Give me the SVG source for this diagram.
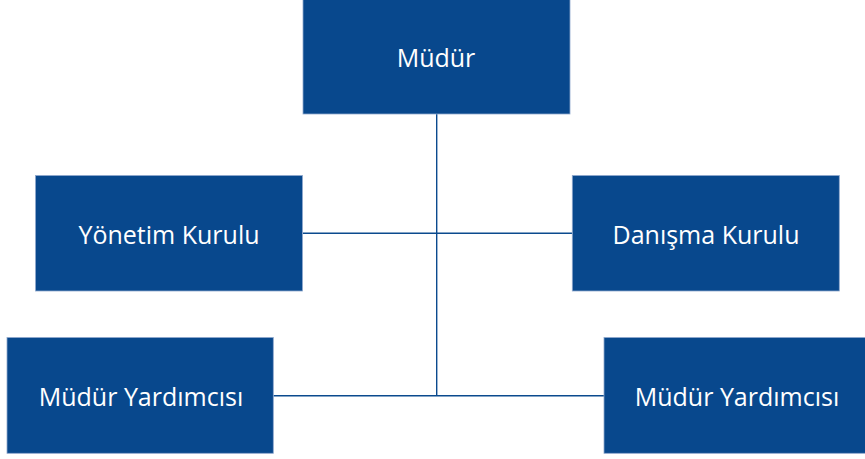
<svg xmlns="http://www.w3.org/2000/svg" width="865" height="459" viewBox="0 0 865 459">
<style>
.box{fill:#08488D;stroke:#8FA9CE;stroke-width:0.8}
.lbl{fill:#FFFFFF;font-family:"Open Sans","Liberation Sans",sans-serif;font-size:25px;text-anchor:middle}
.con{stroke:#0B4A8E;stroke-width:1.4;fill:none}
</style>
<rect width="865" height="459" fill="#FFFFFF"/>
<g id="connectors">
<line class="con" x1="436.7" y1="114" x2="436.7" y2="395.7"/>
<line class="con" x1="302.7" y1="233.3" x2="572.3" y2="233.3"/>
<line class="con" x1="273.3" y1="395.7" x2="604" y2="395.7"/>
</g>
<g id="mudur">
<rect class="box" x="303" y="-1" width="267" height="115"/>
<text class="lbl" x="436" y="66.5">Müdür</text>
</g>
<g id="yonetim">
<rect class="box" x="35.5" y="175.5" width="267" height="115.5"/>
<text class="lbl" x="169" y="243.5">Yönetim Kurulu</text>
</g>
<g id="danisma">
<rect class="box" x="572.3" y="175.5" width="267" height="115.5"/>
<text class="lbl" x="706" y="243.5">Danışma Kurulu</text>
</g>
<g id="yardimci1">
<rect class="box" x="7" y="337.5" width="266.3" height="115.8"/>
<text class="lbl" x="141" y="405.5">Müdür Yardımcısı</text>
</g>
<g id="yardimci2">
<rect class="box" x="604" y="337.5" width="266" height="115.8"/>
<text class="lbl" x="737" y="405.5">Müdür Yardımcısı</text>
</g>
</svg>
